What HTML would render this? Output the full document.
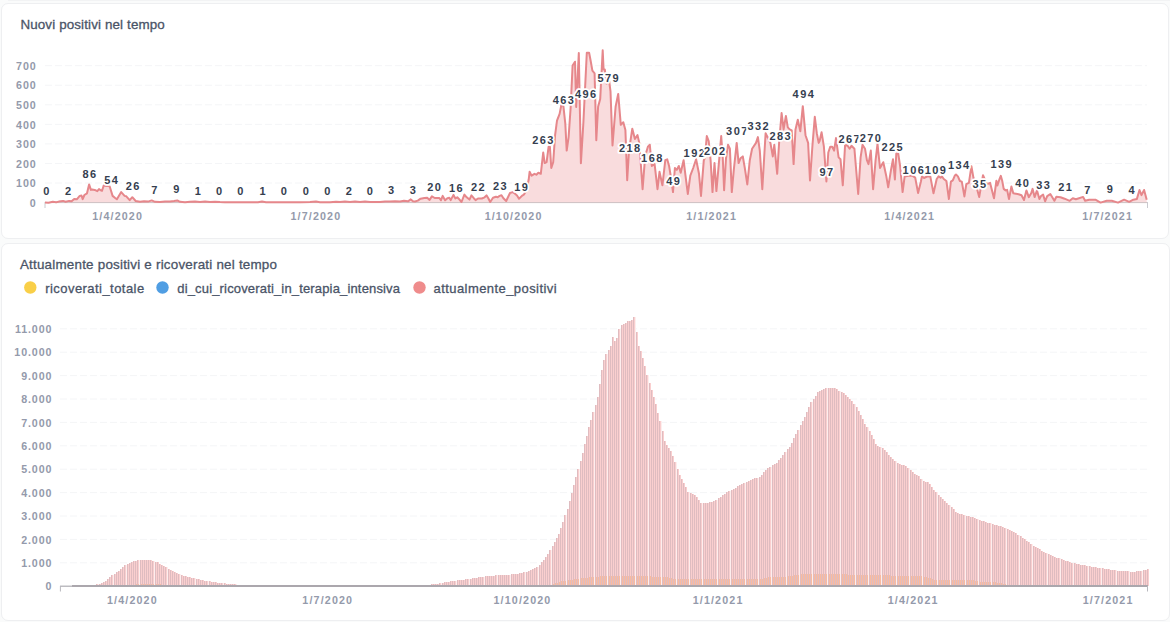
<!DOCTYPE html>
<html><head><meta charset="utf-8"><style>
*{margin:0;padding:0;box-sizing:border-box}
html,body{width:1170px;height:622px;overflow:hidden;background:#FAFBFB;font-family:"Liberation Sans",sans-serif}
.card{position:absolute;background:#fff;border:1px solid #EEEFF1;border-radius:7px}
#c1{left:1px;top:3px;width:1168px;height:236px}
.topline{position:absolute;left:8px;top:0;width:1162px;height:1px;background:#F2F3F4}
#c2{left:1px;top:243px;width:1169px;height:378px}
svg{position:absolute;left:0;top:0}
.grid{stroke:#F4F5F7;stroke-width:1;stroke-dasharray:7 3}
.ax{font-family:"Liberation Sans",sans-serif;font-weight:bold;font-size:10.7px;fill:#949AAB}
.dl{font-family:"Liberation Sans",sans-serif;font-weight:bold;font-size:11px;fill:#353E4F;letter-spacing:1.4px;stroke:#fff;stroke-width:3.6px;paint-order:stroke;stroke-linejoin:round;text-anchor:middle}
.tt{font-family:"Liberation Sans",sans-serif;fill:#4A5467;stroke:#4A5467;stroke-width:0.3px}
</style></head><body>
<div class="topline"></div>
<div class="card" id="c1"></div>
<div class="card" id="c2"></div>
<svg width="1170" height="622" viewBox="0 0 1170 622">
<line x1="45" x2="1147" y1="183.04" y2="183.04" class="grid"/>
<line x1="45" x2="1147" y1="163.48" y2="163.48" class="grid"/>
<line x1="45" x2="1147" y1="143.92" y2="143.92" class="grid"/>
<line x1="45" x2="1147" y1="124.36" y2="124.36" class="grid"/>
<line x1="45" x2="1147" y1="104.8" y2="104.8" class="grid"/>
<line x1="45" x2="1147" y1="85.24" y2="85.24" class="grid"/>
<line x1="45" x2="1147" y1="65.68" y2="65.68" class="grid"/>
<text x="36.8" y="206.75" text-anchor="end" class="ax" letter-spacing="1.0">0</text>
<text x="36.8" y="187.19" text-anchor="end" class="ax" letter-spacing="1.0">100</text>
<text x="36.8" y="167.63" text-anchor="end" class="ax" letter-spacing="1.0">200</text>
<text x="36.8" y="148.07" text-anchor="end" class="ax" letter-spacing="1.0">300</text>
<text x="36.8" y="128.51" text-anchor="end" class="ax" letter-spacing="1.0">400</text>
<text x="36.8" y="108.95" text-anchor="end" class="ax" letter-spacing="1.0">500</text>
<text x="36.8" y="89.39" text-anchor="end" class="ax" letter-spacing="1.0">600</text>
<text x="36.8" y="69.83" text-anchor="end" class="ax" letter-spacing="1.0">700</text>
<path d="M45 202.6 L48.5 202.7 L52.8 201.7 L56.2 202.3 L58.8 201.6 L63.1 200.9 L65.6 201.7 L69.1 200.9 L71.6 201.3 L74.2 198.9 L76.8 199.3 L79.7 195.9 L81.5 195.5 L82.7 199.1 L84.4 195 L87 193.3 L89.1 184.4 L90.9 189.9 L92.1 189.5 L94.7 189.9 L97.3 191.2 L99 189.1 L100.7 190.3 L102 190.8 L103.7 185.6 L106.2 186.1 L108.4 186.1 L109.7 186.5 L112.6 195.9 L115.2 198 L116.9 199.3 L121.2 192.1 L124.6 195.9 L126.3 196.3 L129.7 200.2 L132.3 197.2 L135.7 201 L140 201.7 L144 201.2 L148 201.6 L151.7 200.4 L155 201.8 L160 202 L165 201.6 L170 201.5 L174 201 L177.3 200.4 L180 201.8 L185 202.2 L190 201.8 L195 201.5 L200 201.9 L205 201.6 L210 202 L215 201.7 L220 202.1 L225 202.3 L230 202.3 L240 202.3 L250 202.3 L258 202.2 L262 201.6 L266 202.2 L280 202.3 L290 202.3 L300 202.3 L310 202 L316 201.6 L320 202.2 L330 202.3 L336 201.8 L340 202.1 L345 201.6 L350 201.9 L355 201.5 L360 202 L365 201.6 L370 202.1 L380 202 L385 201.6 L390 201.5 L395 201.2 L400 201.6 L404 200.8 L408 201.3 L410.8 199.4 L413 201.3 L415 201.5 L417.8 200.6 L420.6 198.7 L424.4 198 L427.2 197.7 L429.6 199.9 L431.9 196.3 L434.7 198 L439.4 198 L440.9 200.3 L442.7 195.9 L445.1 200.3 L447.4 198.2 L449.3 197.7 L450.7 200.1 L453.5 194.9 L455.4 198.4 L457.3 197.3 L458.7 198.7 L461.5 202 L464.4 194.6 L466.7 197.3 L469.5 199.6 L471.4 195.4 L473.8 198.2 L475.6 200.1 L478 198.5 L481.8 198.5 L484.6 197.3 L486.5 195.4 L488.3 198.2 L490.2 202 L493 197.7 L495.9 196.8 L497.7 197.3 L499.6 195.9 L501.5 195.2 L503.4 198.2 L506.2 201 L510 193 L512.8 192.1 L514.7 193.5 L517 195.5 L519 198.7 L521.9 195.9 L524 194.5 L526.5 190 L528.7 179.5 L529.6 171.8 L531.6 175.7 L534.5 173.8 L536.4 174.7 L538.3 172.8 L540.8 173.8 L543.2 152.5 L544.7 163.1 L546.6 162.2 L548.6 146.7 L549.9 146.7 L551.3 168 L553.2 162.2 L555.1 135.2 L557 120.7 L559.6 113.9 L561.5 104.3 L563.4 106.2 L565.3 123.6 L566.7 150.6 L568.6 137.1 L570.6 108.2 L572.6 65.6 L575 61.7 L576.2 107 L578.8 53 L580.9 163.3 L583.4 122.2 L586.8 52.7 L589.1 52.7 L590.5 60 L592.4 70.7 L594.6 73.3 L596.3 140.2 L598.1 106.8 L600.2 99.1 L602.7 50.2 L603.6 69.5 L604.8 69.5 L606.6 83.6 L609.2 81.1 L610.5 91.4 L612.5 145.4 L615.6 106.8 L618.2 93.9 L620.8 124.8 L623.3 122.3 L625.4 130 L627.2 180.2 L629 150.6 L632.3 128.7 L634.9 139 L637.5 135.1 L639.3 142.9 L642.6 189.2 L645.2 155.7 L647.9 146.7 L649.8 144.8 L651.8 166 L654.6 164.1 L657.5 189.2 L659.5 171.8 L662.4 185.3 L665.3 160.2 L667.2 159.3 L669.1 166 L671 177.6 L673 192.1 L674.9 168 L676.8 169.9 L678.8 166 L680.7 172.8 L683.6 160.2 L685.5 175.7 L687.8 194 L690.3 175.7 L693.2 168 L696.1 159.3 L699 173.8 L701 195.9 L703.8 160.2 L704.8 158.3 L706.8 136.1 L708.7 141 L710.6 160.2 L712.5 192.1 L714.5 163.1 L716.4 191.1 L719.3 158.3 L721.2 136.1 L722.8 158.3 L724.1 190.2 L726 158.3 L728 144.8 L729.9 148.7 L731.8 192.1 L733.8 169.9 L736.7 142.9 L738.6 163.1 L740.5 158.3 L742.8 156.4 L744.8 168 L747.3 184.4 L749.8 160.2 L752.1 148.7 L756 142.9 L757.9 137.1 L759.8 150.6 L762.3 189.2 L765.6 133.2 L768 138 L770.4 142.9 L772.8 156.4 L774.3 144.8 L777.2 173.8 L779.1 142.9 L781.6 113 L783.6 129.4 L785.9 115.9 L787.8 127.4 L789.7 129.4 L791.7 130.3 L793.6 164.1 L795.5 129.4 L797.8 119.7 L800.3 131.3 L802.8 106.2 L805.5 135.2 L808.1 142.9 L810 180.5 L812.5 144.8 L814.8 116.8 L816.8 133.2 L818.7 142.9 L819.6 141 L821.6 132.3 L823.9 146.7 L826.4 181.5 L828.3 152.5 L830.3 146.7 L832.2 146.7 L834.1 150.6 L836 138.1 L838.6 157.4 L840.5 159.3 L842.8 185.3 L845.1 144.8 L847.6 145.8 L849.6 148.7 L851.5 145.8 L854.4 148.7 L858.2 194 L860.6 157.4 L862.5 144.8 L865 148.7 L866.9 160.2 L868.5 164.1 L870.8 150.6 L873.1 189.2 L875.6 160.2 L877.5 143.8 L880 168 L883.3 162.2 L886.2 175.7 L888.2 187.3 L891 169.9 L893 159.3 L894.9 179.5 L896.3 153.5 L898.2 153.5 L900.1 166 L902.6 192.1 L904.6 176.6 L908.4 175.7 L912.3 175.7 L915.2 177.6 L918.1 193 L920.9 181.5 L921.9 176.4 L924 178 L927 176.5 L930.3 176.4 L933.5 193.2 L936.7 179 L938.6 176.4 L940.6 177.7 L941.9 176.4 L943.8 179 L946.4 181 L948.9 199 L950.9 181.6 L952.8 180.3 L954.7 175.8 L956 174.5 L957.9 176.4 L959.9 181 L961.8 181.6 L964.4 196.4 L966.3 184.2 L968.9 182.9 L971.4 166.2 L973.4 177.7 L976 185 L979.2 197 L983 175.2 L986.9 184.2 L990.1 182.9 L994 198.3 L996.4 180.7 L997.4 185.5 L999.3 179.7 L1000.8 175.9 L1002.2 180.7 L1003.7 188.9 L1005.6 190.4 L1007.1 189.9 L1009 199.1 L1011.4 186.5 L1013.3 193.3 L1015.8 193.7 L1018.6 194.2 L1021.5 195.2 L1024 200 L1026.4 190.4 L1028.8 197.1 L1031.2 193.3 L1032.6 188.9 L1034.6 197.1 L1037 190.4 L1039.4 199.1 L1041 196 L1043.1 194.6 L1045.1 201.3 L1047.2 196.2 L1050.3 194.1 L1054.4 200.8 L1056.4 196.7 L1060.5 197.2 L1064.6 198.7 L1069.7 200.8 L1072.8 198.2 L1075.9 199.2 L1079 198.2 L1083.1 196.9 L1085.1 200.8 L1089.2 199.7 L1095.4 199.7 L1100.5 202.6 L1106.7 200.8 L1111.8 200.8 L1118 202.6 L1124.1 199.7 L1129.2 201.8 L1133.3 199.7 L1136.9 198.9 L1139.5 190 L1141.5 195.1 L1144.1 190 L1146.7 199.7 L1146.7 202.6 L45 202.6 Z" fill="#F9DCDD"/>
<line x1="45" x2="1147.5" y1="202.6" y2="202.6" stroke="#CDBFC2" stroke-width="1"/>
<line x1="45" x2="45" y1="202" y2="208" stroke="#CACACF" stroke-width="1"/>
<line x1="1147.5" x2="1147.5" y1="202" y2="208" stroke="#CACACF" stroke-width="1"/>
<path d="M45 202.6 L48.5 202.7 L52.8 201.7 L56.2 202.3 L58.8 201.6 L63.1 200.9 L65.6 201.7 L69.1 200.9 L71.6 201.3 L74.2 198.9 L76.8 199.3 L79.7 195.9 L81.5 195.5 L82.7 199.1 L84.4 195 L87 193.3 L89.1 184.4 L90.9 189.9 L92.1 189.5 L94.7 189.9 L97.3 191.2 L99 189.1 L100.7 190.3 L102 190.8 L103.7 185.6 L106.2 186.1 L108.4 186.1 L109.7 186.5 L112.6 195.9 L115.2 198 L116.9 199.3 L121.2 192.1 L124.6 195.9 L126.3 196.3 L129.7 200.2 L132.3 197.2 L135.7 201 L140 201.7 L144 201.2 L148 201.6 L151.7 200.4 L155 201.8 L160 202 L165 201.6 L170 201.5 L174 201 L177.3 200.4 L180 201.8 L185 202.2 L190 201.8 L195 201.5 L200 201.9 L205 201.6 L210 202 L215 201.7 L220 202.1 L225 202.3 L230 202.3 L240 202.3 L250 202.3 L258 202.2 L262 201.6 L266 202.2 L280 202.3 L290 202.3 L300 202.3 L310 202 L316 201.6 L320 202.2 L330 202.3 L336 201.8 L340 202.1 L345 201.6 L350 201.9 L355 201.5 L360 202 L365 201.6 L370 202.1 L380 202 L385 201.6 L390 201.5 L395 201.2 L400 201.6 L404 200.8 L408 201.3 L410.8 199.4 L413 201.3 L415 201.5 L417.8 200.6 L420.6 198.7 L424.4 198 L427.2 197.7 L429.6 199.9 L431.9 196.3 L434.7 198 L439.4 198 L440.9 200.3 L442.7 195.9 L445.1 200.3 L447.4 198.2 L449.3 197.7 L450.7 200.1 L453.5 194.9 L455.4 198.4 L457.3 197.3 L458.7 198.7 L461.5 202 L464.4 194.6 L466.7 197.3 L469.5 199.6 L471.4 195.4 L473.8 198.2 L475.6 200.1 L478 198.5 L481.8 198.5 L484.6 197.3 L486.5 195.4 L488.3 198.2 L490.2 202 L493 197.7 L495.9 196.8 L497.7 197.3 L499.6 195.9 L501.5 195.2 L503.4 198.2 L506.2 201 L510 193 L512.8 192.1 L514.7 193.5 L517 195.5 L519 198.7 L521.9 195.9 L524 194.5 L526.5 190 L528.7 179.5 L529.6 171.8 L531.6 175.7 L534.5 173.8 L536.4 174.7 L538.3 172.8 L540.8 173.8 L543.2 152.5 L544.7 163.1 L546.6 162.2 L548.6 146.7 L549.9 146.7 L551.3 168 L553.2 162.2 L555.1 135.2 L557 120.7 L559.6 113.9 L561.5 104.3 L563.4 106.2 L565.3 123.6 L566.7 150.6 L568.6 137.1 L570.6 108.2 L572.6 65.6 L575 61.7 L576.2 107 L578.8 53 L580.9 163.3 L583.4 122.2 L586.8 52.7 L589.1 52.7 L590.5 60 L592.4 70.7 L594.6 73.3 L596.3 140.2 L598.1 106.8 L600.2 99.1 L602.7 50.2 L603.6 69.5 L604.8 69.5 L606.6 83.6 L609.2 81.1 L610.5 91.4 L612.5 145.4 L615.6 106.8 L618.2 93.9 L620.8 124.8 L623.3 122.3 L625.4 130 L627.2 180.2 L629 150.6 L632.3 128.7 L634.9 139 L637.5 135.1 L639.3 142.9 L642.6 189.2 L645.2 155.7 L647.9 146.7 L649.8 144.8 L651.8 166 L654.6 164.1 L657.5 189.2 L659.5 171.8 L662.4 185.3 L665.3 160.2 L667.2 159.3 L669.1 166 L671 177.6 L673 192.1 L674.9 168 L676.8 169.9 L678.8 166 L680.7 172.8 L683.6 160.2 L685.5 175.7 L687.8 194 L690.3 175.7 L693.2 168 L696.1 159.3 L699 173.8 L701 195.9 L703.8 160.2 L704.8 158.3 L706.8 136.1 L708.7 141 L710.6 160.2 L712.5 192.1 L714.5 163.1 L716.4 191.1 L719.3 158.3 L721.2 136.1 L722.8 158.3 L724.1 190.2 L726 158.3 L728 144.8 L729.9 148.7 L731.8 192.1 L733.8 169.9 L736.7 142.9 L738.6 163.1 L740.5 158.3 L742.8 156.4 L744.8 168 L747.3 184.4 L749.8 160.2 L752.1 148.7 L756 142.9 L757.9 137.1 L759.8 150.6 L762.3 189.2 L765.6 133.2 L768 138 L770.4 142.9 L772.8 156.4 L774.3 144.8 L777.2 173.8 L779.1 142.9 L781.6 113 L783.6 129.4 L785.9 115.9 L787.8 127.4 L789.7 129.4 L791.7 130.3 L793.6 164.1 L795.5 129.4 L797.8 119.7 L800.3 131.3 L802.8 106.2 L805.5 135.2 L808.1 142.9 L810 180.5 L812.5 144.8 L814.8 116.8 L816.8 133.2 L818.7 142.9 L819.6 141 L821.6 132.3 L823.9 146.7 L826.4 181.5 L828.3 152.5 L830.3 146.7 L832.2 146.7 L834.1 150.6 L836 138.1 L838.6 157.4 L840.5 159.3 L842.8 185.3 L845.1 144.8 L847.6 145.8 L849.6 148.7 L851.5 145.8 L854.4 148.7 L858.2 194 L860.6 157.4 L862.5 144.8 L865 148.7 L866.9 160.2 L868.5 164.1 L870.8 150.6 L873.1 189.2 L875.6 160.2 L877.5 143.8 L880 168 L883.3 162.2 L886.2 175.7 L888.2 187.3 L891 169.9 L893 159.3 L894.9 179.5 L896.3 153.5 L898.2 153.5 L900.1 166 L902.6 192.1 L904.6 176.6 L908.4 175.7 L912.3 175.7 L915.2 177.6 L918.1 193 L920.9 181.5 L921.9 176.4 L924 178 L927 176.5 L930.3 176.4 L933.5 193.2 L936.7 179 L938.6 176.4 L940.6 177.7 L941.9 176.4 L943.8 179 L946.4 181 L948.9 199 L950.9 181.6 L952.8 180.3 L954.7 175.8 L956 174.5 L957.9 176.4 L959.9 181 L961.8 181.6 L964.4 196.4 L966.3 184.2 L968.9 182.9 L971.4 166.2 L973.4 177.7 L976 185 L979.2 197 L983 175.2 L986.9 184.2 L990.1 182.9 L994 198.3 L996.4 180.7 L997.4 185.5 L999.3 179.7 L1000.8 175.9 L1002.2 180.7 L1003.7 188.9 L1005.6 190.4 L1007.1 189.9 L1009 199.1 L1011.4 186.5 L1013.3 193.3 L1015.8 193.7 L1018.6 194.2 L1021.5 195.2 L1024 200 L1026.4 190.4 L1028.8 197.1 L1031.2 193.3 L1032.6 188.9 L1034.6 197.1 L1037 190.4 L1039.4 199.1 L1041 196 L1043.1 194.6 L1045.1 201.3 L1047.2 196.2 L1050.3 194.1 L1054.4 200.8 L1056.4 196.7 L1060.5 197.2 L1064.6 198.7 L1069.7 200.8 L1072.8 198.2 L1075.9 199.2 L1079 198.2 L1083.1 196.9 L1085.1 200.8 L1089.2 199.7 L1095.4 199.7 L1100.5 202.6 L1106.7 200.8 L1111.8 200.8 L1118 202.6 L1124.1 199.7 L1129.2 201.8 L1133.3 199.7 L1136.9 198.9 L1139.5 190 L1141.5 195.1 L1144.1 190 L1146.7 199.7" fill="none" stroke="#E6878B" stroke-width="2" stroke-linejoin="round"/>
<text x="47" y="194.95" class="dl">0</text>
<text x="68.7" y="194.56" class="dl">2</text>
<text x="89.9" y="178.13" class="dl">86</text>
<text x="111.7" y="184.39" class="dl">54</text>
<text x="133.2" y="189.86" class="dl">26</text>
<text x="154.9" y="193.58" class="dl">7</text>
<text x="177" y="193.19" class="dl">9</text>
<text x="198.6" y="194.75" class="dl">1</text>
<text x="219.8" y="194.95" class="dl">0</text>
<text x="240.9" y="194.95" class="dl">0</text>
<text x="263.2" y="194.75" class="dl">1</text>
<text x="284.6" y="194.95" class="dl">0</text>
<text x="306.4" y="194.95" class="dl">0</text>
<text x="328.1" y="194.95" class="dl">0</text>
<text x="349.5" y="194.56" class="dl">2</text>
<text x="370.4" y="194.95" class="dl">0</text>
<text x="391.8" y="194.36" class="dl">3</text>
<text x="413.6" y="194.36" class="dl">3</text>
<text x="434.7" y="191.04" class="dl">20</text>
<text x="456.4" y="191.82" class="dl">16</text>
<text x="478.4" y="190.65" class="dl">22</text>
<text x="500.4" y="190.45" class="dl">23</text>
<text x="521.7" y="191.23" class="dl">19</text>
<text x="543.5" y="143.51" class="dl">263</text>
<text x="564.1" y="104.39" class="dl">463</text>
<text x="586.3" y="97.93" class="dl">496</text>
<text x="608.7" y="81.7" class="dl">579</text>
<text x="630.2" y="152.31" class="dl">218</text>
<text x="652.4" y="162.09" class="dl">168</text>
<text x="673.7" y="185.37" class="dl">49</text>
<text x="694.9" y="157.39" class="dl">192</text>
<text x="715.2" y="155.44" class="dl">202</text>
<text x="737.4" y="134.9" class="dl">307</text>
<text x="758.7" y="130.01" class="dl">332</text>
<text x="780.8" y="139.6" class="dl">283</text>
<text x="803.9" y="98.32" class="dl">494</text>
<text x="827.1" y="175.98" class="dl">97</text>
<text x="849.7" y="142.72" class="dl">267</text>
<text x="871" y="142.14" class="dl">270</text>
<text x="892.7" y="150.94" class="dl">225</text>
<text x="913.9" y="174.22" class="dl">106</text>
<text x="936.1" y="173.63" class="dl">109</text>
<text x="959.3" y="168.74" class="dl">134</text>
<text x="979.9" y="188.1" class="dl">35</text>
<text x="1001.7" y="167.76" class="dl">139</text>
<text x="1022.7" y="187.13" class="dl">40</text>
<text x="1043.7" y="188.5" class="dl">33</text>
<text x="1065.8" y="190.84" class="dl">21</text>
<text x="1088.1" y="193.58" class="dl">7</text>
<text x="1110.4" y="193.19" class="dl">9</text>
<text x="1132.3" y="194.17" class="dl">4</text>
<text x="117.67" y="219.8" text-anchor="middle" class="ax" letter-spacing="1.15">1/4/2020</text>
<text x="315.88" y="219.8" text-anchor="middle" class="ax" letter-spacing="1.15">1/7/2020</text>
<text x="513.58" y="219.8" text-anchor="middle" class="ax" letter-spacing="1.15">1/10/2020</text>
<text x="711.58" y="219.8" text-anchor="middle" class="ax" letter-spacing="1.15">1/1/2021</text>
<text x="909.68" y="219.8" text-anchor="middle" class="ax" letter-spacing="1.15">1/4/2021</text>
<text x="1107.58" y="219.8" text-anchor="middle" class="ax" letter-spacing="1.15">1/7/2021</text>
<line x1="60" x2="1148" y1="562.8" y2="562.8" class="grid"/>
<line x1="60" x2="1148" y1="539.4" y2="539.4" class="grid"/>
<line x1="60" x2="1148" y1="516" y2="516" class="grid"/>
<line x1="60" x2="1148" y1="492.6" y2="492.6" class="grid"/>
<line x1="60" x2="1148" y1="469.2" y2="469.2" class="grid"/>
<line x1="60" x2="1148" y1="445.8" y2="445.8" class="grid"/>
<line x1="60" x2="1148" y1="422.4" y2="422.4" class="grid"/>
<line x1="60" x2="1148" y1="399" y2="399" class="grid"/>
<line x1="60" x2="1148" y1="375.6" y2="375.6" class="grid"/>
<line x1="60" x2="1148" y1="352.2" y2="352.2" class="grid"/>
<line x1="60" x2="1148" y1="328.8" y2="328.8" class="grid"/>
<text x="52.4" y="590.35" text-anchor="end" class="ax" letter-spacing="0.9">0</text>
<text x="52.4" y="566.95" text-anchor="end" class="ax" letter-spacing="0.9">1.000</text>
<text x="52.4" y="543.55" text-anchor="end" class="ax" letter-spacing="0.9">2.000</text>
<text x="52.4" y="520.15" text-anchor="end" class="ax" letter-spacing="0.9">3.000</text>
<text x="52.4" y="496.75" text-anchor="end" class="ax" letter-spacing="0.9">4.000</text>
<text x="52.4" y="473.35" text-anchor="end" class="ax" letter-spacing="0.9">5.000</text>
<text x="52.4" y="449.95" text-anchor="end" class="ax" letter-spacing="0.9">6.000</text>
<text x="52.4" y="426.55" text-anchor="end" class="ax" letter-spacing="0.9">7.000</text>
<text x="52.4" y="403.15" text-anchor="end" class="ax" letter-spacing="0.9">8.000</text>
<text x="52.4" y="379.75" text-anchor="end" class="ax" letter-spacing="0.9">9.000</text>
<text x="52.4" y="356.35" text-anchor="end" class="ax" letter-spacing="0.9">10.000</text>
<text x="52.4" y="332.95" text-anchor="end" class="ax" letter-spacing="0.9">11.000</text>
<g shape-rendering="crispEdges">
<path d="M71 586h1v0h-1zM73 585h1v1h-1zM75 585h1v1h-1zM77 585h1v1h-1zM79 585h1v1h-1zM81 585h1v1h-1zM83 585h1v1h-1zM86 585h1v1h-1zM88 585h1v1h-1zM90 585h1v1h-1zM92 585h1v1h-1zM94 585h1v1h-1zM96 584h1v2h-1zM99 584h1v2h-1zM101 583h1v3h-1zM103 582h1v4h-1zM105 581h1v5h-1zM107 579h1v7h-1zM109 577h1v9h-1zM111 575h1v11h-1zM114 574h1v12h-1zM116 572h1v14h-1zM118 571h1v15h-1zM120 569h1v17h-1zM122 567h1v19h-1zM124 565h1v21h-1zM127 564h1v22h-1zM129 563h1v23h-1zM131 562h1v24h-1zM133 561h1v25h-1zM135 561h1v25h-1zM137 560h1v26h-1zM140 560h1v26h-1zM142 560h1v26h-1zM144 560h1v26h-1zM146 560h1v26h-1zM148 560h1v26h-1zM150 560h1v26h-1zM152 561h1v25h-1zM155 562h1v24h-1zM157 562h1v24h-1zM159 564h1v22h-1zM161 565h1v21h-1zM163 566h1v20h-1zM165 567h1v19h-1zM168 569h1v17h-1zM170 570h1v16h-1zM172 571h1v15h-1zM174 572h1v14h-1zM176 573h1v13h-1zM178 574h1v12h-1zM181 575h1v11h-1zM183 576h1v10h-1zM185 576h1v10h-1zM187 577h1v9h-1zM189 577h1v9h-1zM191 578h1v8h-1zM193 578h1v8h-1zM196 579h1v7h-1zM198 579h1v7h-1zM200 580h1v6h-1zM202 580h1v6h-1zM204 581h1v5h-1zM206 581h1v5h-1zM209 581h1v5h-1zM211 582h1v4h-1zM213 582h1v4h-1zM215 582h1v4h-1zM217 583h1v3h-1zM219 583h1v3h-1zM221 583h1v3h-1zM224 583h1v3h-1zM226 584h1v2h-1zM228 584h1v2h-1zM230 584h1v2h-1zM232 584h1v2h-1zM234 584h1v2h-1zM237 585h1v1h-1zM239 585h1v1h-1zM241 585h1v1h-1zM243 585h1v1h-1zM245 585h1v1h-1zM247 585h1v1h-1zM250 585h1v1h-1zM252 585h1v1h-1zM254 585h1v1h-1zM256 585h1v1h-1zM258 585h1v1h-1zM260 585h1v1h-1zM262 585h1v1h-1zM265 585h1v1h-1zM267 585h1v1h-1zM269 585h1v1h-1zM271 585h1v1h-1zM273 585h1v1h-1zM275 585h1v1h-1zM278 585h1v1h-1zM280 585h1v1h-1zM282 585h1v1h-1zM284 585h1v1h-1zM286 585h1v1h-1zM288 585h1v1h-1zM291 585h1v1h-1zM293 585h1v1h-1zM295 585h1v1h-1zM297 585h1v1h-1zM299 585h1v1h-1zM301 585h1v1h-1zM303 585h1v1h-1zM306 585h1v1h-1zM308 585h1v1h-1zM310 585h1v1h-1zM312 585h1v1h-1zM314 585h1v1h-1zM316 585h1v1h-1zM319 585h1v1h-1zM321 585h1v1h-1zM323 585h1v1h-1zM325 585h1v1h-1zM327 585h1v1h-1zM329 585h1v1h-1zM331 585h1v1h-1zM334 585h1v1h-1zM336 585h1v1h-1zM338 585h1v1h-1zM340 585h1v1h-1zM342 585h1v1h-1zM344 585h1v1h-1zM347 585h1v1h-1zM349 585h1v1h-1zM351 585h1v1h-1zM353 585h1v1h-1zM355 585h1v1h-1zM357 585h1v1h-1zM360 585h1v1h-1zM362 585h1v1h-1zM364 585h1v1h-1zM366 585h1v1h-1zM368 585h1v1h-1zM370 585h1v1h-1zM372 585h1v1h-1zM375 585h1v1h-1zM377 585h1v1h-1zM379 585h1v1h-1zM381 585h1v1h-1zM383 585h1v1h-1zM385 585h1v1h-1zM388 585h1v1h-1zM390 585h1v1h-1zM392 585h1v1h-1zM394 585h1v1h-1zM396 585h1v1h-1zM398 585h1v1h-1zM401 585h1v1h-1zM403 585h1v1h-1zM405 585h1v1h-1zM407 585h1v1h-1zM409 585h1v1h-1zM411 585h1v1h-1zM413 585h1v1h-1zM416 585h1v1h-1zM418 585h1v1h-1zM420 585h1v1h-1zM422 585h1v1h-1zM424 585h1v1h-1zM426 585h1v1h-1zM429 585h1v1h-1zM431 584h1v2h-1zM433 584h1v2h-1zM435 584h1v2h-1zM437 584h1v2h-1zM439 583h1v3h-1zM442 583h1v3h-1zM444 582h1v4h-1zM446 582h1v4h-1zM448 582h1v4h-1zM450 581h1v5h-1zM452 581h1v5h-1zM454 581h1v5h-1zM457 580h1v6h-1zM459 580h1v6h-1zM461 580h1v6h-1zM463 580h1v6h-1zM465 579h1v7h-1zM467 579h1v7h-1zM470 579h1v7h-1zM472 578h1v8h-1zM474 578h1v8h-1zM476 578h1v8h-1zM478 577h1v9h-1zM480 577h1v9h-1zM482 577h1v9h-1zM485 576h1v10h-1zM487 576h1v10h-1zM489 576h1v10h-1zM491 576h1v10h-1zM493 576h1v10h-1zM495 575h1v11h-1zM498 575h1v11h-1zM500 575h1v11h-1zM502 575h1v11h-1zM504 575h1v11h-1zM506 575h1v11h-1zM508 575h1v11h-1zM511 574h1v12h-1zM513 574h1v12h-1zM515 574h1v12h-1zM517 574h1v12h-1zM519 573h1v13h-1zM521 573h1v13h-1zM523 572h1v14h-1zM526 572h1v14h-1zM528 571h1v15h-1zM530 570h1v16h-1zM532 569h1v17h-1zM534 568h1v18h-1zM536 567h1v19h-1zM539 565h1v21h-1zM541 562h1v24h-1zM543 560h1v26h-1zM545 557h1v29h-1zM547 554h1v32h-1zM549 550h1v36h-1zM552 546h1v40h-1zM554 542h1v44h-1zM556 538h1v48h-1zM558 534h1v52h-1zM560 528h1v58h-1zM562 522h1v64h-1zM564 515h1v71h-1zM567 509h1v77h-1zM569 501h1v85h-1zM571 493h1v93h-1zM573 485h1v101h-1zM575 477h1v109h-1zM577 469h1v117h-1zM580 461h1v125h-1zM582 453h1v133h-1zM584 444h1v142h-1zM586 436h1v150h-1zM588 427h1v159h-1zM590 420h1v166h-1zM592 412h1v174h-1zM595 405h1v181h-1zM597 397h1v189h-1zM599 384h1v202h-1zM601 370h1v216h-1zM603 360h1v226h-1zM605 354h1v232h-1zM608 350h1v236h-1zM610 346h1v240h-1zM612 337h1v249h-1zM614 341h1v245h-1zM616 338h1v248h-1zM618 329h1v257h-1zM621 325h1v261h-1zM623 324h1v262h-1zM625 323h1v263h-1zM627 321h1v265h-1zM629 321h1v265h-1zM631 320h1v266h-1zM633 317h1v269h-1zM636 332h1v254h-1zM638 346h1v240h-1zM640 351h1v235h-1zM642 358h1v228h-1zM644 366h1v220h-1zM646 375h1v211h-1zM649 383h1v203h-1zM651 390h1v196h-1zM653 397h1v189h-1zM655 404h1v182h-1zM657 413h1v173h-1zM659 421h1v165h-1zM662 431h1v155h-1zM664 441h1v145h-1zM666 445h1v141h-1zM668 448h1v138h-1zM670 451h1v135h-1zM672 456h1v130h-1zM674 462h1v124h-1zM677 469h1v117h-1zM679 475h1v111h-1zM681 479h1v107h-1zM683 483h1v103h-1zM685 487h1v99h-1zM687 492h1v94h-1zM690 493h1v93h-1zM692 494h1v92h-1zM694 495h1v91h-1zM696 497h1v89h-1zM698 500h1v86h-1zM700 503h1v83h-1zM703 503h1v83h-1zM705 503h1v83h-1zM707 503h1v83h-1zM709 502h1v84h-1zM711 502h1v84h-1zM713 501h1v85h-1zM715 500h1v86h-1zM718 498h1v88h-1zM720 497h1v89h-1zM722 495h1v91h-1zM724 494h1v92h-1zM726 492h1v94h-1zM728 491h1v95h-1zM731 490h1v96h-1zM733 489h1v97h-1zM735 488h1v98h-1zM737 486h1v100h-1zM739 485h1v101h-1zM741 484h1v102h-1zM743 483h1v103h-1zM746 482h1v104h-1zM748 481h1v105h-1zM750 480h1v106h-1zM752 479h1v107h-1zM754 478h1v108h-1zM756 478h1v108h-1zM759 477h1v109h-1zM761 475h1v111h-1zM763 472h1v114h-1zM765 470h1v116h-1zM767 468h1v118h-1zM769 467h1v119h-1zM772 465h1v121h-1zM774 464h1v122h-1zM776 463h1v123h-1zM778 460h1v126h-1zM780 458h1v128h-1zM782 455h1v131h-1zM784 452h1v134h-1zM787 449h1v137h-1zM789 447h1v139h-1zM791 443h1v143h-1zM793 438h1v148h-1zM795 434h1v152h-1zM797 430h1v156h-1zM800 425h1v161h-1zM802 421h1v165h-1zM804 417h1v169h-1zM806 412h1v174h-1zM808 407h1v179h-1zM810 402h1v184h-1zM813 399h1v187h-1zM815 396h1v190h-1zM817 392h1v194h-1zM819 391h1v195h-1zM821 390h1v196h-1zM823 389h1v197h-1zM825 388h1v198h-1zM828 388h1v198h-1zM830 388h1v198h-1zM832 388h1v198h-1zM834 388h1v198h-1zM836 389h1v197h-1zM838 391h1v195h-1zM841 392h1v194h-1zM843 393h1v193h-1zM845 395h1v191h-1zM847 397h1v189h-1zM849 399h1v187h-1zM851 401h1v185h-1zM853 404h1v182h-1zM856 407h1v179h-1zM858 411h1v175h-1zM860 415h1v171h-1zM862 419h1v167h-1zM864 424h1v162h-1zM866 427h1v159h-1zM869 431h1v155h-1zM871 435h1v151h-1zM873 439h1v147h-1zM875 444h1v142h-1zM877 446h1v140h-1zM879 447h1v139h-1zM882 448h1v138h-1zM884 450h1v136h-1zM886 452h1v134h-1zM888 455h1v131h-1zM890 457h1v129h-1zM892 459h1v127h-1zM894 461h1v125h-1zM897 463h1v123h-1zM899 464h1v122h-1zM901 465h1v121h-1zM903 465h1v121h-1zM905 466h1v120h-1zM907 468h1v118h-1zM910 470h1v116h-1zM912 472h1v114h-1zM914 474h1v112h-1zM916 475h1v111h-1zM918 476h1v110h-1zM920 479h1v107h-1zM923 481h1v105h-1zM925 482h1v104h-1zM927 482h1v104h-1zM929 484h1v102h-1zM931 487h1v99h-1zM933 490h1v96h-1zM935 492h1v94h-1zM938 495h1v91h-1zM940 497h1v89h-1zM942 499h1v87h-1zM944 501h1v85h-1zM946 503h1v83h-1zM948 505h1v81h-1zM951 507h1v79h-1zM953 509h1v77h-1zM955 512h1v74h-1zM957 513h1v73h-1zM959 514h1v72h-1zM961 514h1v72h-1zM963 515h1v71h-1zM966 516h1v70h-1zM968 516h1v70h-1zM970 517h1v69h-1zM972 517h1v69h-1zM974 518h1v68h-1zM976 519h1v67h-1zM979 520h1v66h-1zM981 521h1v65h-1zM983 521h1v65h-1zM985 522h1v64h-1zM987 523h1v63h-1zM989 523h1v63h-1zM992 524h1v62h-1zM994 525h1v61h-1zM996 525h1v61h-1zM998 526h1v60h-1zM1000 526h1v60h-1zM1002 527h1v59h-1zM1004 528h1v58h-1zM1007 529h1v57h-1zM1009 530h1v56h-1zM1011 531h1v55h-1zM1013 532h1v54h-1zM1015 533h1v53h-1zM1017 535h1v51h-1zM1020 536h1v50h-1zM1022 538h1v48h-1zM1024 539h1v47h-1zM1026 541h1v45h-1zM1028 542h1v44h-1zM1030 544h1v42h-1zM1033 546h1v40h-1zM1035 547h1v39h-1zM1037 548h1v38h-1zM1039 549h1v37h-1zM1041 551h1v35h-1zM1043 552h1v34h-1zM1045 553h1v33h-1zM1048 554h1v32h-1zM1050 555h1v31h-1zM1052 556h1v30h-1zM1054 557h1v29h-1zM1056 558h1v28h-1zM1058 558h1v28h-1zM1061 559h1v27h-1zM1063 560h1v26h-1zM1065 561h1v25h-1zM1067 561h1v25h-1zM1069 562h1v24h-1zM1071 563h1v23h-1zM1074 563h1v23h-1zM1076 564h1v22h-1zM1078 564h1v22h-1zM1080 565h1v21h-1zM1082 565h1v21h-1zM1084 565h1v21h-1zM1086 566h1v20h-1zM1089 566h1v20h-1zM1091 567h1v19h-1zM1093 567h1v19h-1zM1095 567h1v19h-1zM1097 568h1v18h-1zM1099 568h1v18h-1zM1102 568h1v18h-1zM1104 569h1v17h-1zM1106 569h1v17h-1zM1108 569h1v17h-1zM1110 570h1v16h-1zM1112 570h1v16h-1zM1114 570h1v16h-1zM1117 571h1v15h-1zM1119 571h1v15h-1zM1121 571h1v15h-1zM1123 571h1v15h-1zM1125 571h1v15h-1zM1127 571h1v15h-1zM1130 572h1v14h-1zM1132 572h1v14h-1zM1134 572h1v14h-1zM1136 571h1v15h-1zM1138 571h1v15h-1zM1140 571h1v15h-1zM1143 570h1v16h-1zM1145 570h1v16h-1zM1147 569h1v17h-1z" fill="#DFBCC0"/>
<path d="M72 586h1v0h-1zM74 585h1v1h-1zM76 585h1v1h-1zM78 585h1v1h-1zM80 585h1v1h-1zM82 585h1v1h-1zM84 585h1v1h-1zM87 585h1v1h-1zM89 585h1v1h-1zM91 585h1v1h-1zM93 585h1v1h-1zM95 585h1v1h-1zM97 584h1v2h-1zM100 584h1v2h-1zM102 583h1v3h-1zM104 582h1v4h-1zM106 581h1v5h-1zM108 579h1v7h-1zM110 577h1v9h-1zM112 575h1v11h-1zM115 574h1v12h-1zM117 572h1v14h-1zM119 571h1v15h-1zM121 569h1v17h-1zM123 567h1v19h-1zM125 565h1v21h-1zM128 564h1v22h-1zM130 563h1v23h-1zM132 562h1v24h-1zM134 561h1v25h-1zM136 561h1v25h-1zM138 560h1v26h-1zM141 560h1v26h-1zM143 560h1v26h-1zM145 560h1v26h-1zM147 560h1v26h-1zM149 560h1v26h-1zM151 560h1v26h-1zM153 561h1v25h-1zM156 562h1v24h-1zM158 562h1v24h-1zM160 564h1v22h-1zM162 565h1v21h-1zM164 566h1v20h-1zM166 567h1v19h-1zM169 569h1v17h-1zM171 570h1v16h-1zM173 571h1v15h-1zM175 572h1v14h-1zM177 573h1v13h-1zM179 574h1v12h-1zM182 575h1v11h-1zM184 576h1v10h-1zM186 576h1v10h-1zM188 577h1v9h-1zM190 577h1v9h-1zM192 578h1v8h-1zM194 578h1v8h-1zM197 579h1v7h-1zM199 579h1v7h-1zM201 580h1v6h-1zM203 580h1v6h-1zM205 581h1v5h-1zM207 581h1v5h-1zM210 581h1v5h-1zM212 582h1v4h-1zM214 582h1v4h-1zM216 582h1v4h-1zM218 583h1v3h-1zM220 583h1v3h-1zM222 583h1v3h-1zM225 583h1v3h-1zM227 584h1v2h-1zM229 584h1v2h-1zM231 584h1v2h-1zM233 584h1v2h-1zM235 584h1v2h-1zM238 585h1v1h-1zM240 585h1v1h-1zM242 585h1v1h-1zM244 585h1v1h-1zM246 585h1v1h-1zM248 585h1v1h-1zM251 585h1v1h-1zM253 585h1v1h-1zM255 585h1v1h-1zM257 585h1v1h-1zM259 585h1v1h-1zM261 585h1v1h-1zM263 585h1v1h-1zM266 585h1v1h-1zM268 585h1v1h-1zM270 585h1v1h-1zM272 585h1v1h-1zM274 585h1v1h-1zM276 585h1v1h-1zM279 585h1v1h-1zM281 585h1v1h-1zM283 585h1v1h-1zM285 585h1v1h-1zM287 585h1v1h-1zM289 585h1v1h-1zM292 585h1v1h-1zM294 585h1v1h-1zM296 585h1v1h-1zM298 585h1v1h-1zM300 585h1v1h-1zM302 585h1v1h-1zM304 585h1v1h-1zM307 585h1v1h-1zM309 585h1v1h-1zM311 585h1v1h-1zM313 585h1v1h-1zM315 585h1v1h-1zM317 585h1v1h-1zM320 585h1v1h-1zM322 585h1v1h-1zM324 585h1v1h-1zM326 585h1v1h-1zM328 585h1v1h-1zM330 585h1v1h-1zM332 585h1v1h-1zM335 585h1v1h-1zM337 585h1v1h-1zM339 585h1v1h-1zM341 585h1v1h-1zM343 585h1v1h-1zM345 585h1v1h-1zM348 585h1v1h-1zM350 585h1v1h-1zM352 585h1v1h-1zM354 585h1v1h-1zM356 585h1v1h-1zM358 585h1v1h-1zM361 585h1v1h-1zM363 585h1v1h-1zM365 585h1v1h-1zM367 585h1v1h-1zM369 585h1v1h-1zM371 585h1v1h-1zM373 585h1v1h-1zM376 585h1v1h-1zM378 585h1v1h-1zM380 585h1v1h-1zM382 585h1v1h-1zM384 585h1v1h-1zM386 585h1v1h-1zM389 585h1v1h-1zM391 585h1v1h-1zM393 585h1v1h-1zM395 585h1v1h-1zM397 585h1v1h-1zM399 585h1v1h-1zM402 585h1v1h-1zM404 585h1v1h-1zM406 585h1v1h-1zM408 585h1v1h-1zM410 585h1v1h-1zM412 585h1v1h-1zM414 585h1v1h-1zM417 585h1v1h-1zM419 585h1v1h-1zM421 585h1v1h-1zM423 585h1v1h-1zM425 585h1v1h-1zM427 585h1v1h-1zM430 585h1v1h-1zM432 584h1v2h-1zM434 584h1v2h-1zM436 584h1v2h-1zM438 584h1v2h-1zM440 583h1v3h-1zM443 583h1v3h-1zM445 582h1v4h-1zM447 582h1v4h-1zM449 582h1v4h-1zM451 581h1v5h-1zM453 581h1v5h-1zM455 581h1v5h-1zM458 580h1v6h-1zM460 580h1v6h-1zM462 580h1v6h-1zM464 580h1v6h-1zM466 579h1v7h-1zM468 579h1v7h-1zM471 579h1v7h-1zM473 578h1v8h-1zM475 578h1v8h-1zM477 578h1v8h-1zM479 577h1v9h-1zM481 577h1v9h-1zM483 577h1v9h-1zM486 576h1v10h-1zM488 576h1v10h-1zM490 576h1v10h-1zM492 576h1v10h-1zM494 576h1v10h-1zM496 575h1v11h-1zM499 575h1v11h-1zM501 575h1v11h-1zM503 575h1v11h-1zM505 575h1v11h-1zM507 575h1v11h-1zM509 575h1v11h-1zM512 574h1v12h-1zM514 574h1v12h-1zM516 574h1v12h-1zM518 574h1v12h-1zM520 573h1v13h-1zM522 573h1v13h-1zM524 572h1v14h-1zM527 572h1v14h-1zM529 571h1v15h-1zM531 570h1v16h-1zM533 569h1v17h-1zM535 568h1v18h-1zM537 567h1v19h-1zM540 565h1v21h-1zM542 562h1v24h-1zM544 560h1v26h-1zM546 557h1v29h-1zM548 554h1v32h-1zM550 550h1v36h-1zM553 546h1v40h-1zM555 542h1v44h-1zM557 538h1v48h-1zM559 534h1v52h-1zM561 528h1v58h-1zM563 522h1v64h-1zM565 515h1v71h-1zM568 509h1v77h-1zM570 501h1v85h-1zM572 493h1v93h-1zM574 485h1v101h-1zM576 477h1v109h-1zM578 469h1v117h-1zM581 461h1v125h-1zM583 453h1v133h-1zM585 444h1v142h-1zM587 436h1v150h-1zM589 427h1v159h-1zM591 420h1v166h-1zM593 412h1v174h-1zM596 405h1v181h-1zM598 397h1v189h-1zM600 384h1v202h-1zM602 370h1v216h-1zM604 360h1v226h-1zM606 354h1v232h-1zM609 350h1v236h-1zM611 346h1v240h-1zM613 337h1v249h-1zM615 341h1v245h-1zM617 338h1v248h-1zM619 329h1v257h-1zM622 325h1v261h-1zM624 324h1v262h-1zM626 323h1v263h-1zM628 321h1v265h-1zM630 321h1v265h-1zM632 320h1v266h-1zM634 317h1v269h-1zM637 332h1v254h-1zM639 346h1v240h-1zM641 351h1v235h-1zM643 358h1v228h-1zM645 366h1v220h-1zM647 375h1v211h-1zM650 383h1v203h-1zM652 390h1v196h-1zM654 397h1v189h-1zM656 404h1v182h-1zM658 413h1v173h-1zM660 421h1v165h-1zM663 431h1v155h-1zM665 441h1v145h-1zM667 445h1v141h-1zM669 448h1v138h-1zM671 451h1v135h-1zM673 456h1v130h-1zM675 462h1v124h-1zM678 469h1v117h-1zM680 475h1v111h-1zM682 479h1v107h-1zM684 483h1v103h-1zM686 487h1v99h-1zM688 492h1v94h-1zM691 493h1v93h-1zM693 494h1v92h-1zM695 495h1v91h-1zM697 497h1v89h-1zM699 500h1v86h-1zM701 503h1v83h-1zM704 503h1v83h-1zM706 503h1v83h-1zM708 503h1v83h-1zM710 502h1v84h-1zM712 502h1v84h-1zM714 501h1v85h-1zM716 500h1v86h-1zM719 498h1v88h-1zM721 497h1v89h-1zM723 495h1v91h-1zM725 494h1v92h-1zM727 492h1v94h-1zM729 491h1v95h-1zM732 490h1v96h-1zM734 489h1v97h-1zM736 488h1v98h-1zM738 486h1v100h-1zM740 485h1v101h-1zM742 484h1v102h-1zM744 483h1v103h-1zM747 482h1v104h-1zM749 481h1v105h-1zM751 480h1v106h-1zM753 479h1v107h-1zM755 478h1v108h-1zM757 478h1v108h-1zM760 477h1v109h-1zM762 475h1v111h-1zM764 472h1v114h-1zM766 470h1v116h-1zM768 468h1v118h-1zM770 467h1v119h-1zM773 465h1v121h-1zM775 464h1v122h-1zM777 463h1v123h-1zM779 460h1v126h-1zM781 458h1v128h-1zM783 455h1v131h-1zM785 452h1v134h-1zM788 449h1v137h-1zM790 447h1v139h-1zM792 443h1v143h-1zM794 438h1v148h-1zM796 434h1v152h-1zM798 430h1v156h-1zM801 425h1v161h-1zM803 421h1v165h-1zM805 417h1v169h-1zM807 412h1v174h-1zM809 407h1v179h-1zM811 402h1v184h-1zM814 399h1v187h-1zM816 396h1v190h-1zM818 392h1v194h-1zM820 391h1v195h-1zM822 390h1v196h-1zM824 389h1v197h-1zM826 388h1v198h-1zM829 388h1v198h-1zM831 388h1v198h-1zM833 388h1v198h-1zM835 388h1v198h-1zM837 389h1v197h-1zM839 391h1v195h-1zM842 392h1v194h-1zM844 393h1v193h-1zM846 395h1v191h-1zM848 397h1v189h-1zM850 399h1v187h-1zM852 401h1v185h-1zM854 404h1v182h-1zM857 407h1v179h-1zM859 411h1v175h-1zM861 415h1v171h-1zM863 419h1v167h-1zM865 424h1v162h-1zM867 427h1v159h-1zM870 431h1v155h-1zM872 435h1v151h-1zM874 439h1v147h-1zM876 444h1v142h-1zM878 446h1v140h-1zM880 447h1v139h-1zM883 448h1v138h-1zM885 450h1v136h-1zM887 452h1v134h-1zM889 455h1v131h-1zM891 457h1v129h-1zM893 459h1v127h-1zM895 461h1v125h-1zM898 463h1v123h-1zM900 464h1v122h-1zM902 465h1v121h-1zM904 465h1v121h-1zM906 466h1v120h-1zM908 468h1v118h-1zM911 470h1v116h-1zM913 472h1v114h-1zM915 474h1v112h-1zM917 475h1v111h-1zM919 476h1v110h-1zM921 479h1v107h-1zM924 481h1v105h-1zM926 482h1v104h-1zM928 482h1v104h-1zM930 484h1v102h-1zM932 487h1v99h-1zM934 490h1v96h-1zM936 492h1v94h-1zM939 495h1v91h-1zM941 497h1v89h-1zM943 499h1v87h-1zM945 501h1v85h-1zM947 503h1v83h-1zM949 505h1v81h-1zM952 507h1v79h-1zM954 509h1v77h-1zM956 512h1v74h-1zM958 513h1v73h-1zM960 514h1v72h-1zM962 514h1v72h-1zM964 515h1v71h-1zM967 516h1v70h-1zM969 516h1v70h-1zM971 517h1v69h-1zM973 517h1v69h-1zM975 518h1v68h-1zM977 519h1v67h-1zM980 520h1v66h-1zM982 521h1v65h-1zM984 521h1v65h-1zM986 522h1v64h-1zM988 523h1v63h-1zM990 523h1v63h-1zM993 524h1v62h-1zM995 525h1v61h-1zM997 525h1v61h-1zM999 526h1v60h-1zM1001 526h1v60h-1zM1003 527h1v59h-1zM1005 528h1v58h-1zM1008 529h1v57h-1zM1010 530h1v56h-1zM1012 531h1v55h-1zM1014 532h1v54h-1zM1016 533h1v53h-1zM1018 535h1v51h-1zM1021 536h1v50h-1zM1023 538h1v48h-1zM1025 539h1v47h-1zM1027 541h1v45h-1zM1029 542h1v44h-1zM1031 544h1v42h-1zM1034 546h1v40h-1zM1036 547h1v39h-1zM1038 548h1v38h-1zM1040 549h1v37h-1zM1042 551h1v35h-1zM1044 552h1v34h-1zM1046 553h1v33h-1zM1049 554h1v32h-1zM1051 555h1v31h-1zM1053 556h1v30h-1zM1055 557h1v29h-1zM1057 558h1v28h-1zM1059 558h1v28h-1zM1062 559h1v27h-1zM1064 560h1v26h-1zM1066 561h1v25h-1zM1068 561h1v25h-1zM1070 562h1v24h-1zM1072 563h1v23h-1zM1075 563h1v23h-1zM1077 564h1v22h-1zM1079 564h1v22h-1zM1081 565h1v21h-1zM1083 565h1v21h-1zM1085 565h1v21h-1zM1087 566h1v20h-1zM1090 566h1v20h-1zM1092 567h1v19h-1zM1094 567h1v19h-1zM1096 567h1v19h-1zM1098 568h1v18h-1zM1100 568h1v18h-1zM1103 568h1v18h-1zM1105 569h1v17h-1zM1107 569h1v17h-1zM1109 569h1v17h-1zM1111 570h1v16h-1zM1113 570h1v16h-1zM1115 570h1v16h-1zM1118 571h1v15h-1zM1120 571h1v15h-1zM1122 571h1v15h-1zM1124 571h1v15h-1zM1126 571h1v15h-1zM1128 571h1v15h-1zM1131 572h1v14h-1zM1133 572h1v14h-1zM1135 572h1v14h-1zM1137 571h1v15h-1zM1139 571h1v15h-1zM1141 571h1v15h-1zM1144 570h1v16h-1zM1146 570h1v16h-1zM1148 569h1v17h-1z" fill="#FACFCF"/>
<path d="M85 585h1v1h-1zM98 584h1v2h-1zM113 575h1v11h-1zM126 565h1v21h-1zM139 560h1v26h-1zM154 561h1v25h-1zM167 567h1v19h-1zM180 574h1v12h-1zM195 578h1v8h-1zM208 581h1v5h-1zM223 583h1v3h-1zM236 584h1v2h-1zM249 585h1v1h-1zM264 585h1v1h-1zM277 585h1v1h-1zM290 585h1v1h-1zM305 585h1v1h-1zM318 585h1v1h-1zM333 585h1v1h-1zM346 585h1v1h-1zM359 585h1v1h-1zM374 585h1v1h-1zM387 585h1v1h-1zM400 585h1v1h-1zM415 585h1v1h-1zM428 585h1v1h-1zM441 583h1v3h-1zM456 581h1v5h-1zM469 579h1v7h-1zM484 577h1v9h-1zM497 575h1v11h-1zM510 575h1v11h-1zM525 572h1v14h-1zM538 567h1v19h-1zM551 550h1v36h-1zM566 515h1v71h-1zM579 469h1v117h-1zM594 412h1v174h-1zM607 354h1v232h-1zM620 329h1v257h-1zM635 317h1v269h-1zM648 375h1v211h-1zM661 421h1v165h-1zM676 462h1v124h-1zM689 492h1v94h-1zM702 503h1v83h-1zM717 500h1v86h-1zM730 491h1v95h-1zM745 483h1v103h-1zM758 478h1v108h-1zM771 467h1v119h-1zM786 452h1v134h-1zM799 430h1v156h-1zM812 402h1v184h-1zM827 388h1v198h-1zM840 391h1v195h-1zM855 404h1v182h-1zM868 427h1v159h-1zM881 447h1v139h-1zM896 461h1v125h-1zM909 468h1v118h-1zM922 479h1v107h-1zM937 492h1v94h-1zM950 505h1v81h-1zM965 515h1v71h-1zM978 519h1v67h-1zM991 523h1v63h-1zM1006 528h1v58h-1zM1019 535h1v51h-1zM1032 544h1v42h-1zM1047 553h1v33h-1zM1060 558h1v28h-1zM1073 563h1v23h-1zM1088 566h1v20h-1zM1101 568h1v18h-1zM1116 570h1v16h-1zM1129 571h1v15h-1zM1142 571h1v15h-1z" fill="#FDEEEE"/>
<path d="M128 585h1v1h-1zM130 585h1v1h-1zM132 585h1v1h-1zM134 585h1v1h-1zM136 584h1v2h-1zM138 584h1v2h-1zM141 584h1v2h-1zM143 584h1v2h-1zM145 584h1v2h-1zM147 584h1v2h-1zM149 584h1v2h-1zM151 584h1v2h-1zM153 584h1v2h-1zM156 584h1v2h-1zM158 584h1v2h-1zM160 584h1v2h-1zM162 585h1v1h-1zM164 585h1v1h-1zM166 585h1v1h-1zM169 585h1v1h-1zM171 585h1v1h-1zM173 585h1v1h-1zM175 585h1v1h-1zM177 585h1v1h-1zM179 585h1v1h-1zM548 585h1v1h-1zM550 585h1v1h-1zM553 584h1v2h-1zM555 583h1v3h-1zM557 583h1v3h-1zM559 582h1v4h-1zM561 581h1v5h-1zM563 581h1v5h-1zM565 581h1v5h-1zM568 580h1v6h-1zM570 580h1v6h-1zM572 580h1v6h-1zM574 579h1v7h-1zM576 579h1v7h-1zM578 579h1v7h-1zM581 578h1v8h-1zM583 578h1v8h-1zM585 578h1v8h-1zM587 578h1v8h-1zM589 577h1v9h-1zM591 577h1v9h-1zM593 577h1v9h-1zM596 577h1v9h-1zM598 577h1v9h-1zM600 576h1v10h-1zM602 576h1v10h-1zM604 576h1v10h-1zM606 576h1v10h-1zM609 576h1v10h-1zM611 576h1v10h-1zM613 576h1v10h-1zM615 576h1v10h-1zM617 576h1v10h-1zM619 576h1v10h-1zM622 576h1v10h-1zM624 576h1v10h-1zM626 576h1v10h-1zM628 576h1v10h-1zM630 576h1v10h-1zM632 576h1v10h-1zM634 576h1v10h-1zM637 576h1v10h-1zM639 576h1v10h-1zM641 576h1v10h-1zM643 576h1v10h-1zM645 576h1v10h-1zM647 576h1v10h-1zM650 576h1v10h-1zM652 577h1v9h-1zM654 577h1v9h-1zM656 577h1v9h-1zM658 577h1v9h-1zM660 577h1v9h-1zM663 577h1v9h-1zM665 577h1v9h-1zM667 577h1v9h-1zM669 578h1v8h-1zM671 578h1v8h-1zM673 579h1v7h-1zM675 579h1v7h-1zM678 579h1v7h-1zM680 579h1v7h-1zM682 579h1v7h-1zM684 579h1v7h-1zM686 579h1v7h-1zM688 579h1v7h-1zM691 579h1v7h-1zM693 579h1v7h-1zM695 579h1v7h-1zM697 579h1v7h-1zM699 579h1v7h-1zM701 579h1v7h-1zM704 579h1v7h-1zM706 579h1v7h-1zM708 579h1v7h-1zM710 579h1v7h-1zM712 579h1v7h-1zM714 579h1v7h-1zM716 579h1v7h-1zM719 579h1v7h-1zM721 579h1v7h-1zM723 579h1v7h-1zM725 579h1v7h-1zM727 579h1v7h-1zM729 579h1v7h-1zM732 579h1v7h-1zM734 579h1v7h-1zM736 579h1v7h-1zM738 579h1v7h-1zM740 579h1v7h-1zM742 579h1v7h-1zM744 579h1v7h-1zM747 579h1v7h-1zM749 579h1v7h-1zM751 579h1v7h-1zM753 579h1v7h-1zM755 579h1v7h-1zM757 579h1v7h-1zM760 579h1v7h-1zM762 579h1v7h-1zM764 578h1v8h-1zM766 578h1v8h-1zM768 577h1v9h-1zM770 577h1v9h-1zM773 577h1v9h-1zM775 577h1v9h-1zM777 577h1v9h-1zM779 577h1v9h-1zM781 577h1v9h-1zM783 577h1v9h-1zM785 577h1v9h-1zM788 576h1v10h-1zM790 576h1v10h-1zM792 576h1v10h-1zM794 575h1v11h-1zM796 575h1v11h-1zM798 575h1v11h-1zM801 574h1v12h-1zM803 574h1v12h-1zM805 574h1v12h-1zM807 574h1v12h-1zM809 574h1v12h-1zM811 574h1v12h-1zM814 574h1v12h-1zM816 574h1v12h-1zM818 574h1v12h-1zM820 574h1v12h-1zM822 574h1v12h-1zM824 574h1v12h-1zM826 574h1v12h-1zM829 574h1v12h-1zM831 574h1v12h-1zM833 574h1v12h-1zM835 574h1v12h-1zM837 574h1v12h-1zM839 574h1v12h-1zM842 574h1v12h-1zM844 574h1v12h-1zM846 574h1v12h-1zM848 575h1v11h-1zM850 575h1v11h-1zM852 575h1v11h-1zM854 575h1v11h-1zM857 575h1v11h-1zM859 575h1v11h-1zM861 575h1v11h-1zM863 575h1v11h-1zM865 575h1v11h-1zM867 575h1v11h-1zM870 575h1v11h-1zM872 575h1v11h-1zM874 575h1v11h-1zM876 575h1v11h-1zM878 575h1v11h-1zM880 575h1v11h-1zM883 575h1v11h-1zM885 575h1v11h-1zM887 575h1v11h-1zM889 575h1v11h-1zM891 576h1v10h-1zM893 576h1v10h-1zM895 576h1v10h-1zM898 576h1v10h-1zM900 576h1v10h-1zM902 576h1v10h-1zM904 576h1v10h-1zM906 576h1v10h-1zM908 576h1v10h-1zM911 576h1v10h-1zM913 576h1v10h-1zM915 576h1v10h-1zM917 576h1v10h-1zM919 576h1v10h-1zM921 576h1v10h-1zM924 577h1v9h-1zM926 577h1v9h-1zM928 578h1v8h-1zM930 578h1v8h-1zM932 579h1v7h-1zM934 580h1v6h-1zM936 580h1v6h-1zM939 580h1v6h-1zM941 580h1v6h-1zM943 580h1v6h-1zM945 580h1v6h-1zM947 580h1v6h-1zM949 580h1v6h-1zM952 580h1v6h-1zM954 580h1v6h-1zM956 580h1v6h-1zM958 580h1v6h-1zM960 580h1v6h-1zM962 580h1v6h-1zM964 580h1v6h-1zM967 580h1v6h-1zM969 580h1v6h-1zM971 580h1v6h-1zM973 580h1v6h-1zM975 581h1v5h-1zM977 581h1v5h-1zM980 582h1v4h-1zM982 582h1v4h-1zM984 582h1v4h-1zM986 582h1v4h-1zM988 582h1v4h-1zM990 582h1v4h-1zM993 582h1v4h-1zM995 582h1v4h-1zM997 583h1v3h-1zM999 583h1v3h-1zM1001 583h1v3h-1zM1003 584h1v2h-1zM1005 584h1v2h-1zM1008 585h1v1h-1zM1010 585h1v1h-1zM1012 585h1v1h-1zM1014 585h1v1h-1zM1016 585h1v1h-1zM1018 585h1v1h-1zM1021 585h1v1h-1zM1023 585h1v1h-1zM1025 585h1v1h-1zM1027 585h1v1h-1zM1029 585h1v1h-1zM1031 585h1v1h-1zM1034 585h1v1h-1zM1036 585h1v1h-1zM1038 585h1v1h-1zM1040 585h1v1h-1zM1042 585h1v1h-1zM1044 585h1v1h-1zM1046 585h1v1h-1zM1049 585h1v1h-1zM1051 585h1v1h-1zM1053 585h1v1h-1zM1055 585h1v1h-1zM1057 585h1v1h-1zM1059 585h1v1h-1zM1062 585h1v1h-1zM1064 585h1v1h-1zM1066 585h1v1h-1zM1068 585h1v1h-1zM1070 585h1v1h-1zM1072 585h1v1h-1zM1075 585h1v1h-1zM1077 585h1v1h-1zM1079 585h1v1h-1z" fill="#F8AE7E" opacity="0.6"/>
</g>
<line x1="60" x2="72" y1="586.2" y2="586.2" stroke="#ADABB1" stroke-width="1.2"/>
<line x1="72" x2="1148" y1="586" y2="586" stroke="#ABA7AD" stroke-width="1.8"/>
<line x1="60.4" x2="60.4" y1="586" y2="591.5" stroke="#B8B8BE" stroke-width="1"/>
<line x1="1147.5" x2="1147.5" y1="586" y2="591.5" stroke="#B8B8BE" stroke-width="1"/>
<text x="132.38" y="603.8" text-anchor="middle" class="ax" letter-spacing="1.15">1/4/2020</text>
<text x="327.77" y="603.8" text-anchor="middle" class="ax" letter-spacing="1.15">1/7/2020</text>
<text x="522.48" y="603.8" text-anchor="middle" class="ax" letter-spacing="1.15">1/10/2020</text>
<text x="718.08" y="603.8" text-anchor="middle" class="ax" letter-spacing="1.15">1/1/2021</text>
<text x="913.18" y="603.8" text-anchor="middle" class="ax" letter-spacing="1.15">1/4/2021</text>
<text x="1108.17" y="603.8" text-anchor="middle" class="ax" letter-spacing="1.15">1/7/2021</text>
<text x="20.4" y="28.9" class="tt" font-size="13.4" letter-spacing="0.13">Nuovi positivi nel tempo</text>
<text x="19.9" y="269.3" class="tt" font-size="13.4" letter-spacing="0.22">Attualmente positivi e ricoverati nel tempo</text>
<circle cx="30.3" cy="287.5" r="6.2" fill="#F9CF48"/>
<circle cx="162.5" cy="287.5" r="6.2" fill="#509EE3"/>
<circle cx="419.5" cy="287.5" r="6.2" fill="#EF8C8C"/>
<text x="45.2" y="292.8" class="tt" font-size="13" letter-spacing="0.45">ricoverati_totale</text>
<text x="177.3" y="292.8" class="tt" font-size="13" letter-spacing="0.16">di_cui_ricoverati_in_terapia_intensiva</text>
<text x="433.5" y="292.8" class="tt" font-size="13" letter-spacing="0.43">attualmente_positivi</text>
</svg>
</body></html>
